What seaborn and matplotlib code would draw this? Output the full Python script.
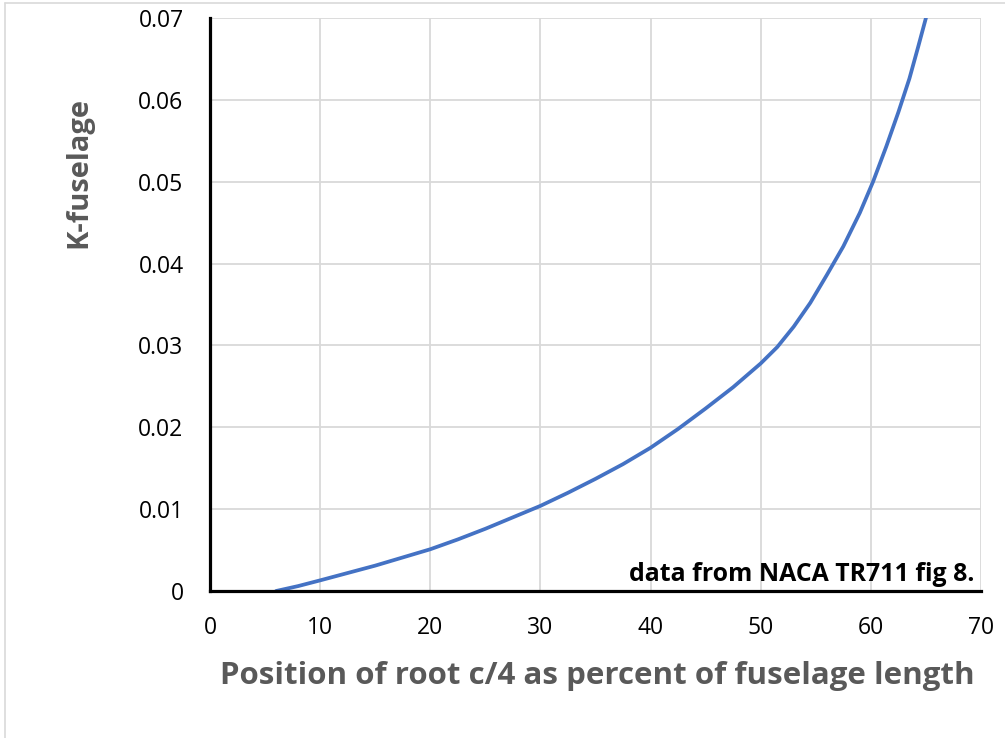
import seaborn as sns
import matplotlib.pyplot as plt
from matplotlib.lines import Line2D

# Data
position = [6, 8, 10, 12.5, 15, 17.5, 20, 22.5, 25, 27.5, 30, 32.5, 35, 37.5, 40, 42.5, 45, 47.5,
            50, 51.5, 53, 54.5, 56, 57.5, 59, 60.2, 61.4, 62.5, 63.5, 64.3, 65]
k_fuselage = [0.0, 0.0006, 0.0013, 0.0022, 0.0031, 0.0041, 0.0051, 0.0063, 0.0076, 0.0090,
              0.0104, 0.0120, 0.0137, 0.0155, 0.0175, 0.0198, 0.0223, 0.0249,
              0.0278, 0.0298, 0.0323, 0.0352, 0.0386, 0.0421, 0.0462, 0.0500, 0.0543, 0.0585,
              0.0626, 0.0665, 0.0700]

x_ticks = [0, 10, 20, 30, 40, 50, 60, 70]
y_ticks = [0, 0.01, 0.02, 0.03, 0.04, 0.05, 0.06, 0.07]
y_tick_labels = ['0', '0.01', '0.02', '0.03', '0.04', '0.05', '0.06', '0.07']

sns.set_theme(style='whitegrid')
plt.rcParams['font.family'] = ['Open Sans', 'DejaVu Sans']

fig = plt.figure(figsize=(10.05, 7.38), dpi=100)
ax = fig.add_axes([210 / 1005, 147 / 738, 771 / 1005, 573 / 738])

sns.lineplot(x=position, y=k_fuselage, ax=ax, color='#4472C4', linewidth=2.7)

ax.set_xlim(0, 70)
ax.set_ylim(0, 0.07)
ax.set_xticks(x_ticks)
ax.set_yticks(y_ticks)
ax.set_yticklabels(y_tick_labels)
ax.tick_params(axis='both', length=0, labelsize=16.5, labelcolor='black')
ax.tick_params(axis='x', pad=18)
ax.tick_params(axis='y', pad=19)

ax.grid(True, color='#d9d9d9', linewidth=1.3)
ax.set_facecolor('white')
for side in ['top', 'right']:
    ax.spines[side].set_visible(False)
for side in ['left', 'bottom']:
    ax.spines[side].set_color('black')
    ax.spines[side].set_linewidth(2.3)
    ax.spines[side].set_zorder(5)

ax.set_xlabel('Position of root c/4 as percent of fuselage length',
              fontsize=22.5, fontweight='bold', color='#595959', va='center')
ax.xaxis.set_label_coords(0.502, -0.148)
ax.set_ylabel('K-fuselage', fontsize=21, fontweight='bold', color='#595959', va='center')
ax.yaxis.set_label_coords(-0.170, 0.730)

ax.text(0.992, 0.0166, 'data from NACA TR711 fig 8.', transform=ax.transAxes,
        ha='right', va='baseline', fontsize=17.9, fontweight='bold', color='black')

# chart area border (Excel frame)
fig.add_artist(Line2D([5 / 1005, 5 / 1005], [0, 735 / 738], transform=fig.transFigure,
                      color='#d9d9d9', linewidth=1.2))
fig.add_artist(Line2D([5 / 1005, 1], [735 / 738, 735 / 738], transform=fig.transFigure,
                      color='#d9d9d9', linewidth=1.2))

fig.savefig('out.png', dpi=100, facecolor='white')
